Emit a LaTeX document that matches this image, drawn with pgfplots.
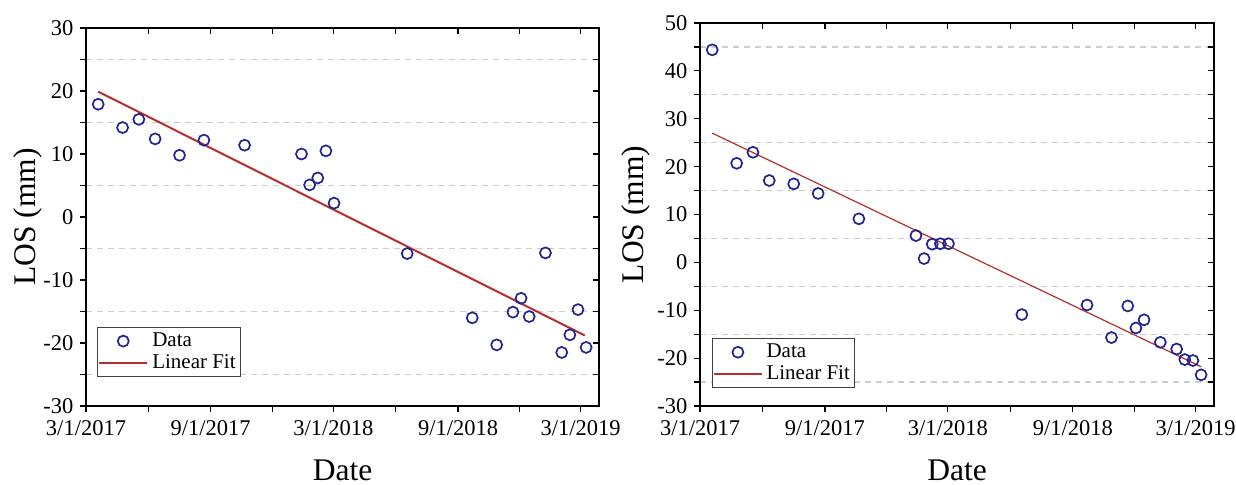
\documentclass[border=0pt]{standalone}
\usepackage{fontspec}
\setmainfont{Liberation Serif}
\usepackage{pgfplots}
\pgfplotsset{compat=1.18}
\definecolor{mk}{RGB}{35,35,145}
\definecolor{fit}{RGB}{178,48,48}
\definecolor{grd}{RGB}{205,205,205}
\pgfplotsset{
  base/.style={
    scale only axis, anchor=south west,
    xmin=0, xmax=757,
    xtick={0,184,365,549,730},
    minor xtick={92,275,457,640},
    axis line style={black, line width=0.75pt},
    major tick length=2.8pt, minor tick length=2.8pt,
    every tick/.style={black, line width=0.6pt},
    /pgf/number format/assume math mode=true,
    tick label style={font=\fontsize{11.25}{13}\selectfont},
  },
  front/.style={
    base,
    xtick pos=left, ytick pos=left, tick align=outside,
    xticklabels={3/1/2017,9/1/2017,3/1/2018,9/1/2018,3/1/2019},
    xticklabel style={yshift=-1pt},
    yminorgrids, minor grid style={grd, dash pattern=on 3pt off 2.5pt, line width=0.6pt},
    label style={font=\fontsize{15.75}{18}\selectfont},
    xlabel={Date},
    ylabel={LOS (mm)},
    xlabel style={at={(axis description cs:0.5,0)}, anchor=center, yshift=-32pt},
    legend cell align=left,
    legend style={font=\fontsize{10.5}{12}\selectfont, draw=black!75, line width=0.5pt,
      inner xsep=0.5pt, inner ysep=0.5pt, row sep=-1.5pt, anchor=south west},
  },
  back/.style={
    base,
    xtick pos=right, ytick pos=right, tick align=inside,
    xticklabels={}, yticklabels={},
  },
  scat/.style={only marks, mark=o, mark size=2.75pt, mk, line width=0.85pt,
    legend image code/.code={\draw[mark repeat=2,mark phase=2,##1] plot coordinates {(0pt,0pt)(12pt,0pt)(24pt,0pt)};}},
  fitl/.style={fit, no marks,
    legend image code/.code={\draw[##1] (0pt,0pt) -- (24pt,0pt);}},
}
\begin{document}
\begin{tikzpicture}
\path[use as bounding box] (0,0) rectangle (618pt,242pt);
% ---------------- left panel ----------------
\begin{axis}[front, at={(43pt,39pt)}, width=256.5pt, height=189pt,
  ymin=-30, ymax=30, ytick={-30,-20,...,30}, minor ytick={-25,-15,...,25},
  ylabel style={at={(axis description cs:-0.113,0.5)}, anchor=center},
  legend style={at={(rel axis cs:0.021,0.077)}}]
\addplot[scat] coordinates {
(18,17.9) (54,14.2) (78,15.5) (102,12.4) (138,9.8) (174,12.2) (234,11.4)
(318,10.0) (330,5.1) (342,6.2) (354,10.5) (366,2.2) (474,-5.8)
(570,-16.0) (606,-20.3) (630,-15.1) (642,-12.9) (654,-15.8) (678,-5.7)
(702,-21.5) (714,-18.7) (726,-14.7) (738,-20.7)};
\addlegendentry{Data}
\addplot[fitl, line width=1pt] coordinates {(18,19.9) (736,-18.8)};
\addlegendentry{Linear Fit}
\end{axis}
\begin{axis}[back, at={(43pt,39pt)}, width=256.5pt, height=189pt,
  ymin=-30, ymax=30, ytick={-30,-20,...,30}, minor ytick={-25,-15,...,25}]
\end{axis}
% ---------------- right panel ----------------
\begin{axis}[front, at={(350pt,39pt)}, width=257pt, height=191.5pt,
  ymin=-30, ymax=50, ytick={-30,-20,...,50}, minor ytick={-25,-15,...,45},
  ylabel style={at={(axis description cs:-0.1245,0.5)}, anchor=center},
  legend style={at={(rel axis cs:0.023,0.047)}}]
\addplot[scat] coordinates {
(18,44.4) (54,20.7) (78,23.0) (102,17.1) (138,16.4) (174,14.4) (234,9.1)
(318,5.6) (330,0.8) (342,3.8) (354,3.9) (366,3.9) (474,-10.9)
(570,-8.9) (606,-15.7) (630,-9.1) (642,-13.7) (654,-12.0) (678,-16.7)
(702,-18.1) (714,-20.3) (726,-20.5) (738,-23.5)};
\addlegendentry{Data}
\addplot[fitl, line width=0.6pt] coordinates {(18,27.0) (738,-21.8)};
\addlegendentry{Linear Fit}
\end{axis}
\begin{axis}[back, at={(350pt,39pt)}, width=257pt, height=191.5pt,
  ymin=-30, ymax=50, ytick={-30,-20,...,50}, minor ytick={-25,-15,...,45}]
\end{axis}
\end{tikzpicture}
\end{document}
